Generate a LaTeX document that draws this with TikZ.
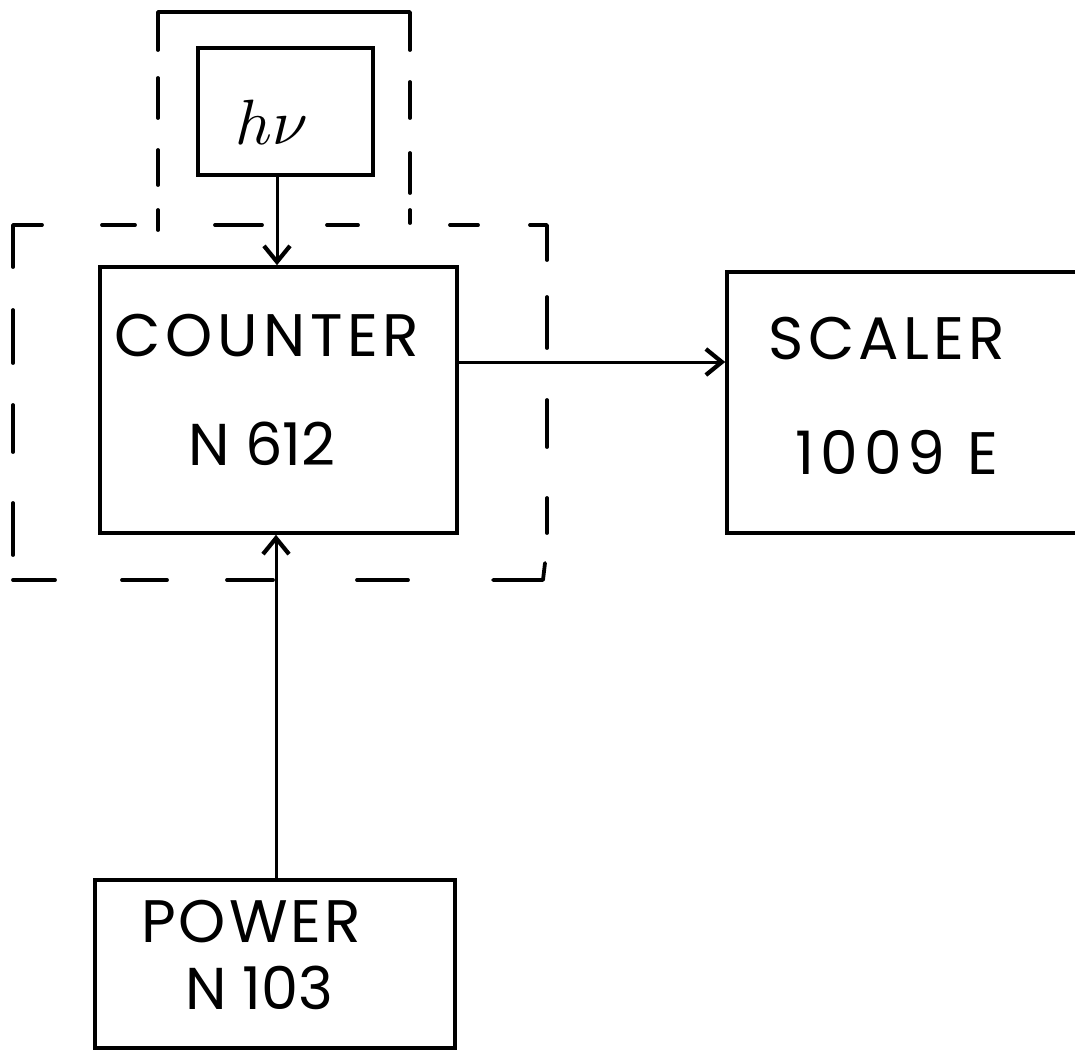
\documentclass[tikz,border=0pt]{standalone}
\usepackage{fontspec}
\setmainfont{Poppins}
\usetikzlibrary{arrows.meta}
\begin{document}
\begin{tikzpicture}[x=1pt,y=-1pt,
  box/.style={draw, line width=3.6pt, inner sep=0pt},
  lbl/.style={inner sep=0pt, font=\fontsize{59}{62}\selectfont},
  sp/.style={lbl, font=\fontsize{60}{62}\selectfont\addfontfeatures{LetterSpace=#1}},
  conn/.style={line width=3pt, -{Straight Barb[length=16pt,width=26pt,line width=4.2pt]}},
  dashline/.style={line width=3.8pt, line cap=round, line join=round}]
\useasboundingbox (0,0) rectangle (1075,1057);
% boxes
\node[box, minimum width=175pt, minimum height=127pt] (hv) at (285.5,111.5) {};
\node[box, minimum width=357pt, minimum height=266pt] (counter) at (278.5,400) {};
\node[box, minimum width=363pt, minimum height=261pt] (scaler) at (908.5,402.5) {};
\node[box, minimum width=360pt, minimum height=168pt] (power) at (275,964) {};
% labels
\node[inner sep=0pt] (hvT) at (272,122) {\scalebox{6.4}{$h\nu$}};
\node[sp=8] (counterT) at (267,336) {COUNTER};
\node[lbl] (counterN) at (262,444) {N 612};
\node[sp=7] (scalerT) at (887,339) {SCALER};
\node[sp=10] (scalerN) at (897,452) {1009 E};
\node[sp=5] (powerT) at (251,922) {POWER};
\node[lbl] (powerN) at (259,988) {N 103};
% connectors
\coordinate (ax) at (277,0);
\coordinate (bx) at (276,0);
\coordinate (ry) at (0,362);
\draw[conn] (hv.south -| ax) -- (counter.north -| ax);
\draw[conn] (power.north -| bx) -- (counter.south -| bx);
\draw[conn] (counter.east |- ry) -- (scaler.west |- ry);
% enclosure around h nu
\draw[dashline] (158,50) -- (158,12) -- (410,12) -- (410,50);
\foreach \a/\b in {78/118,150/185,210/230} \draw[dashline] (158,\a) -- (158,\b);
\foreach \a/\b in {82/118,153/193,210/223} \draw[dashline] (410,\a) -- (410,\b);
% dashed box around counter
\draw[dashline] (42,225) -- (13,225) -- (13,267);
\draw[dashline] (530,225) -- (547,225) -- (547,260);
\foreach \a/\b in {102/135,215/262,327/358,450/478} \draw[dashline] (\a,225) -- (\b,225);
\foreach \a/\b in {310/363,405/452,503/555} \draw[dashline] (13,\a) -- (13,\b);
\foreach \a/\b in {13/55,122/167,227/273,357/408} \draw[dashline] (\a,580) -- (\b,580);
\draw[dashline] (493,580) -- (543,580) -- (545,563);
\foreach \a/\b in {297/348,400/447,498/533} \draw[dashline] (547,\a) -- (547,\b);
\end{tikzpicture}
\end{document}
